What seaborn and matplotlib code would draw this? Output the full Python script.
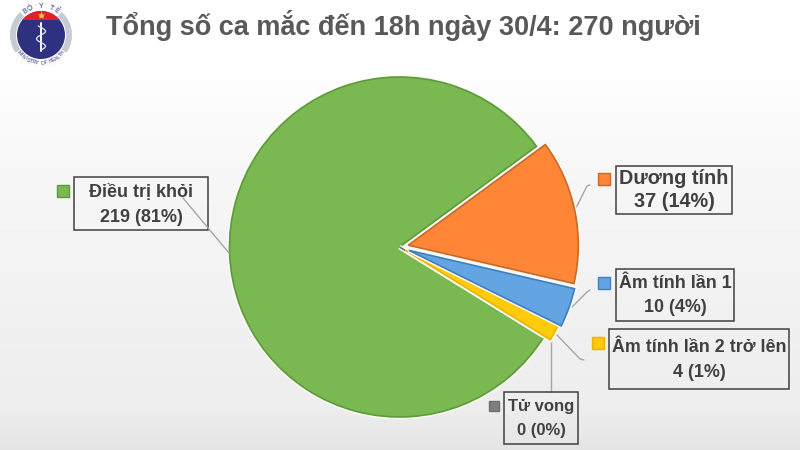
import numpy as np
import matplotlib
matplotlib.use("Agg")
import matplotlib.pyplot as plt
import matplotlib.patheffects as pe
from matplotlib.patches import Circle, Wedge, Rectangle
import seaborn as sns

# Case counts per outcome, listed counter-clockwise from the upper-right edge of the green slice
categories = ["Điều trị khỏi", "Tử vong", "Âm tính lần 2 trở lên", "Âm tính lần 1", "Dương tính"]
counts = [219, 0, 4, 10, 37]
shares = ["81%", "0%", "1%", "4%", "14%"]
edges = ["#5C9A3A", "#6F6F6F", "#EDB200", "#3F7FC0", "#C8682A"]
fills = ["#7AB851", "#7F7F7F", "#FFCB0A", "#62A5E2", "#FF8636"]
title = "Tổng số ca mắc đến 18h ngày 30/4: 270 người"

sns.set_theme(style="white")
plt.rcParams["font.family"] = ["Liberation Sans", "DejaVu Sans"]

fig = plt.figure(figsize=(8, 4.5), dpi=100)
ax = fig.add_axes([0, 0, 1, 1])
H = 450


def Y(y):
    return H - y


# Soft slide background: white at the top, light grey further down
ramp = np.linspace(0, 1, 90)
shade = np.interp(ramp, [0, 0.12, 0.4, 0.67, 0.9, 1], [1, 1, 0.965, 0.945, 0.93, 0.895])[:, None] * np.ones((90, 160))
ax.imshow(shade, cmap="gray", vmin=0, vmax=1, extent=(0, 800, 0, 450), zorder=0, aspect="auto")

# Pie with the small slices pulled away from the centre (offsets are in axis units here)
explode = [0, 0, 7, 10, 9]
wedges, _ = ax.pie(
    counts, explode=explode, colors=fills, startangle=36.3, counterclock=True,
    center=(399.5, Y(247)), radius=170, frame=True,
    wedgeprops=dict(linewidth=1.2, zorder=3),
)
for w, edge in zip(wedges, edges):
    w.set_edgecolor(edge)
    # White halo keeps the slices visually separated
    w.set_path_effects([pe.Stroke(linewidth=3.4, foreground="#FBFBF5"), pe.Normal()])

ax.set_xlim(0, 800)
ax.set_ylim(0, 450)
ax.set_aspect("auto")
ax.axis("off")

# Leader lines from slices to labels
leaders = [
    [(183, 198), (229, 253)],
    [(551, 340), (551, 392)],
    [(557, 335), (580, 359), (584, 360)],
    [(572, 307), (587, 292), (590, 290)],
    [(575, 210), (587, 186), (590, 185)],
]
for pts in leaders:
    px, py = zip(*pts)
    ax.plot(px, [Y(v) for v in py], color="#A6A6A6", lw=1.0, zorder=2.5 if pts[0][0] != 183 else 6)

# Boxed labels and colour keys: (box left, top, right, bottom), (key left, top, size)
boxes = [(74, 177, 208, 230), (504, 392, 578, 444), (609, 329, 789, 389),
         (616, 269, 734, 321), (616, 166, 732, 214)]
keys = [(57, 185, 12), (489, 401, 10), (592, 337, 12), (598, 277, 12), (598, 173, 12)]
label_sizes = [13, 12, 12.9, 12.9, 14.3]
line_gaps = [25, 24, 25, 24, 23]
for name, n, pct, box, key, edge, fill, fs, gap in zip(
        categories, counts, shares, boxes, keys, edges, fills, label_sizes, line_gaps):
    l, t, r, b = box
    ax.add_patch(Rectangle((l, Y(b)), r - l, b - t, fc="none", ec="#404040", lw=1.1, zorder=5))
    mid = (t + b) / 2
    for line, dy in ((name, -gap / 2), (f"{n} ({pct})", gap / 2)):
        ax.text((l + r) / 2, Y(mid + dy + 5.5), line, ha="center", va="baseline",
                fontsize=fs, fontweight="bold", color="#404040", zorder=7)
    kx, ky, ks = key
    ax.add_patch(Rectangle((kx, Y(ky + ks)), ks, ks, fc=fill, ec=edge, lw=1.0, zorder=5))

ax.text(403, Y(35), title, ha="center", va="baseline", fontsize=19.5, fontweight="bold",
        color="#595959", zorder=7)

# Ministry emblem
cx, cy = 41, Y(35)
ax.add_patch(Wedge((cx, cy), 31, 0, 360, width=6, fc="#C5CBD3", ec="none", zorder=4))
ax.add_patch(Wedge((cx, cy), 31, 48, 132, width=7, fc="white", ec="none", zorder=4.1))
ax.add_patch(Wedge((cx, cy), 31, 215, 325, width=7, fc="white", ec="none", zorder=4.1))
ax.add_patch(Circle((cx, cy), 24, fc="#2E3080", ec="none", zorder=4.2))
clip = Circle((cx, cy), 24, transform=ax.transData)
red = Rectangle((cx - 24, cy + 15), 48, 10, fc="#E3202A", ec="none", zorder=4.3)
ax.add_patch(red)
red.set_clip_path(clip)
ax.plot([cx], [cy + 20], marker="*", ms=6, color="#F5D040", mec="none", zorder=4.4)
ax.plot([cx, cx], [cy - 16, cy + 12], color="white", lw=1.4, zorder=4.4)
phase = np.linspace(0, 1, 40)
ax.plot(cx + 4.5 * np.sin(phase * 3.2 * np.pi), cy - 15 + 24 * phase, color="#D8DCEC", lw=1.0, zorder=4.4)


def ring_text(text, radius, centre_deg, step, size, inward):
    # Place letters one by one along a circle around the emblem
    n = len(text)
    for i, ch in enumerate(text):
        a = centre_deg + (i - (n - 1) / 2) * step * (-1 if inward else 1)
        rad = np.deg2rad(a)
        rot = a - 90 if inward else a + 90
        ax.text(cx + radius * np.cos(rad), cy + radius * np.sin(rad), ch, rotation=rot,
                ha="center", va="center", fontsize=size, color="#2E3080", zorder=5,
                rotation_mode="anchor")


ring_text("BỘ Y TẾ", 28.5, 90, 11, 5, True)
ring_text("MINISTRY OF HEALTH", 28, 270, 6, 3.6, False)

fig.savefig("out.png", dpi=100)
